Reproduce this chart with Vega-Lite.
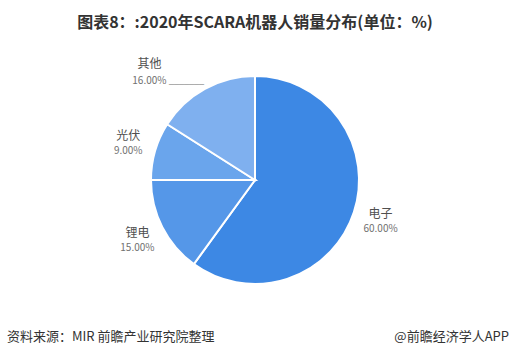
{
  "$schema": "https://vega.github.io/schema/vega-lite/v6.json",
  "width": 508,
  "height": 274,
  "autosize": "none",
  "padding": {"left": 1, "top": 43, "right": 1, "bottom": 40},
  "background": "white",
  "config": {
    "view": {"stroke": "#d9d9d9", "strokeWidth": 1},
    "font": "Noto Sans CJK SC"
  },
  "title": {
    "text": "图表8：:2020年SCARA机器人销量分布(单位：%)",
    "font": "Noto Sans CJK SC",
    "fontSize": 16,
    "fontWeight": "bold",
    "color": "#333333",
    "anchor": "middle",
    "offset": 12
  },
  "data": {
    "values": [
      {"rank": 1, "name": "电子", "value": 60, "pct": "60.00%"},
      {"rank": 2, "name": "锂电", "value": 15, "pct": "15.00%"},
      {"rank": 3, "name": "光伏", "value": 9, "pct": "9.00%"},
      {"rank": 4, "name": "其他", "value": 16, "pct": "16.00%"}
    ]
  },
  "encoding": {
    "theta": {"field": "value", "type": "quantitative", "stack": true},
    "order": {"field": "rank", "type": "quantitative"}
  },
  "layer": [
    {
      "mark": {"type": "arc", "radius": 104, "stroke": "white", "strokeWidth": 2},
      "encoding": {
        "color": {
          "field": "name",
          "type": "nominal",
          "scale": {"domain": ["电子", "锂电", "光伏", "其他"], "range": ["#3d88e4", "#5597e8", "#6aa5ec", "#7fb0ef"]},
          "legend": null
        }
      }
    },
    {
      "mark": {"type": "text", "radius": 132, "dy": -7, "fontSize": 12, "color": "#505050"},
      "encoding": {"text": {"condition": {"test": "datum.name !== '其他'", "field": "name"}, "value": ""}}
    },
    {
      "mark": {"type": "text", "radius": 132, "dy": 8, "fontSize": 10, "color": "#707070"},
      "encoding": {"text": {"condition": {"test": "datum.name !== '其他'", "field": "pct"}, "value": ""}}
    },
    {
      "mark": {"type": "text", "radius": 132, "dx": -42, "dy": 0, "fontSize": 12, "color": "#505050"},
      "encoding": {"text": {"condition": {"test": "datum.name === '其他'", "field": "name"}, "value": ""}}
    },
    {
      "mark": {"type": "text", "radius": 132, "dx": -42, "dy": 17, "fontSize": 10, "color": "#707070"},
      "encoding": {"text": {"condition": {"test": "datum.name === '其他'", "field": "pct"}, "value": ""}}
    },
    {
      "mark": {"type": "text", "radius": 132, "dx": -5, "dy": 15, "fontSize": 10, "color": "#999999", "font": "DejaVu Sans"},
      "encoding": {"text": {"condition": {"test": "datum.name === '其他'", "value": "_______"}, "value": ""}}
    },
    {
      "data": {"values": [{"t": "资料来源：MIR 前瞻产业研究院整理"}]},
      "mark": {"type": "text", "align": "left", "baseline": "middle", "fontSize": 13, "color": "#333333", "x": 6, "y": {"expr": "height + 20"}},
      "encoding": {"text": {"field": "t"}, "theta": null, "order": null}
    },
    {
      "data": {"values": [{"t": "@前瞻经济学人APP"}]},
      "mark": {"type": "text", "align": "right", "baseline": "middle", "fontSize": 13, "color": "#333333", "x": {"expr": "width"}, "y": {"expr": "height + 20"}},
      "encoding": {"text": {"field": "t"}, "theta": null, "order": null}
    }
  ]
}
